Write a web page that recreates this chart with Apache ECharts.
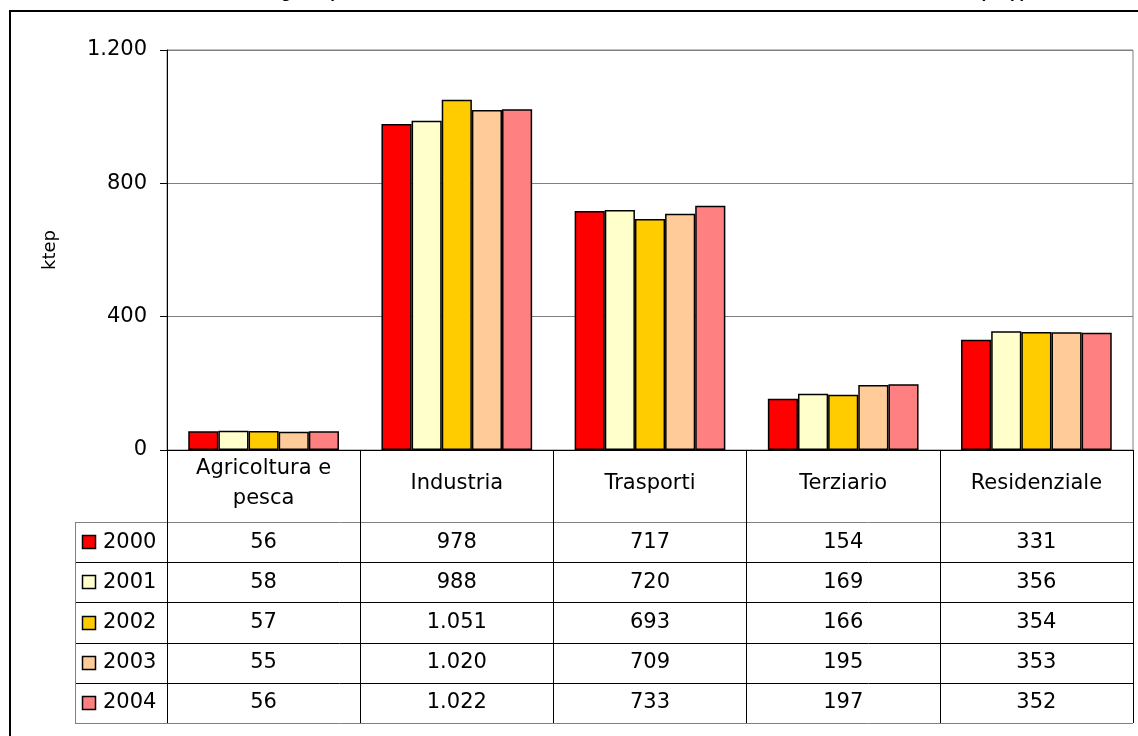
<!DOCTYPE html>
<html><head><meta charset="utf-8">
<script src="https://cdn.jsdelivr.net/npm/echarts@6/dist/echarts.min.js"></script>
<style>html,body{margin:0;padding:0;background:#fff}#c{width:1138px;height:736px}</style>
</head><body><div id="c"></div>
<script>
// ---- data ----
const titleText = "Consumi energetici per settore nel territorio della Provincia di Ravenna dall'anno 2000 all'anno 2004 (ktep)";
const categories = ['Agricoltura e\npesca', 'Industria', 'Trasporti', 'Terziario', 'Residenziale'];
const years = ['2000', '2001', '2002', '2003', '2004'];
const values2000 = [56, 978, 717, 154, 331];
const values2001 = [58, 988, 720, 169, 356];
const values2002 = [57, 1051, 693, 166, 354];
const values2003 = [55, 1020, 709, 195, 353];
const values2004 = [56, 1022, 733, 197, 352];
const yAxisName = 'ktep';
const yMin = 0, yMax = 1200, yInterval = 400;

// ---- style / layout ----
const seriesValues = [values2000, values2001, values2002, values2003, values2004];
const colors = ['#FF0000', '#FFFFCC', '#FFCC00', '#FFCC99', '#FF8080'];
const FONT = 'DejaVu Sans';
const FS = 21;
const W = 1138, H = 736;
const grid = { left: 167, right: 5, top: 50, bottom: 286 };
const tableTop = 522, rowH = 40.2, legendLeft = 75;

function fmt(v) { return String(v).replace(/\B(?=(\d{3})+(?!\d))/g, '.'); }

const chart = echarts.init(document.getElementById('c'), null, { renderer: 'canvas' });
chart.setOption({
  animation: false,
  grid: Object.assign({ show: true, borderColor: '#808080', borderWidth: 1 }, grid),
  xAxis: {
    type: 'category', data: categories,
    axisLine: { lineStyle: { color: '#000', width: 1 } },
    axisTick: { show: true, interval: 0, length: 273, lineStyle: { color: '#000' } },
    axisLabel: { interval: 0, margin: 34, verticalAlign: 'middle', fontFamily: FONT, fontSize: FS, color: '#000', lineHeight: 30 },
    splitLine: { show: false }
  },
  yAxis: {
    type: 'value', min: yMin, max: yMax, interval: yInterval,
    name: yAxisName, nameLocation: 'middle', nameGap: 108, nameRotate: 90,
    nameTextStyle: { fontFamily: FONT, fontSize: 18, color: '#000' },
    axisLine: { show: true, lineStyle: { color: '#000' } },
    axisTick: { show: true, length: 7, lineStyle: { color: '#000' } },
    axisLabel: { formatter: fmt, margin: 20, fontFamily: FONT, fontSize: FS, color: '#000' },
    splitLine: { lineStyle: { color: '#808080', width: 1 } }
  },
  series: years.map((y, i) => ({
    type: 'bar', name: y, data: seriesValues[i],
    barGap: '0%', barCategoryGap: '22%',
    itemStyle: { color: colors[i], borderColor: '#000', borderWidth: 1.5 }
  }))
});

const xRight = W - grid.right;
const elems = [];
// outer frame
elems.push({ type: 'rect', shape: { x: 10, y: 11, width: 1300, height: 900 }, style: { fill: 'none', stroke: '#000', lineWidth: 2 }, silent: true });
// title (mostly clipped above the top edge)
elems.push({ type: 'text', x: 1026, y: -7, style: { text: titleText, textAlign: 'right', textVerticalAlign: 'middle', font: 'bold 17px "Liberation Sans"', fill: '#000' } });
// table horizontal lines
for (let i = 0; i <= years.length; i++) {
  const y = Math.round(tableTop + i * rowH) + 0.5;
  elems.push({ type: 'line', shape: { x1: legendLeft, y1: y, x2: xRight, y2: y }, style: { stroke: i === 0 || i === years.length ? '#808080' : '#000', lineWidth: 1 } });
}
const yb = Math.round(tableTop + years.length * rowH);
elems.push({ type: 'line', shape: { x1: legendLeft + 0.5, y1: tableTop, x2: legendLeft + 0.5, y2: yb }, style: { stroke: '#808080', lineWidth: 1 } });
// legend keys + values
years.forEach((yr, i) => {
  const cy = tableTop + i * rowH + rowH / 2;
  elems.push({ type: 'rect', shape: { x: 82.5, y: Math.round(cy - 7) + 0.5, width: 13, height: 13 }, style: { fill: colors[i], stroke: '#000', lineWidth: 1.5 } });
  elems.push({ type: 'text', x: 103, y: cy, style: { text: yr, textVerticalAlign: 'middle', font: FS + 'px "DejaVu Sans"', fill: '#000' } });
  seriesValues[i].forEach((v, j) => {
    const cx = chart.convertToPixel({ xAxisIndex: 0 }, j);
    elems.push({ type: 'text', x: cx, y: cy, style: { text: fmt(v), textAlign: 'center', textVerticalAlign: 'middle', font: FS + 'px "DejaVu Sans"', fill: '#000' } });
  });
});
chart.setOption({ graphic: { elements: elems } });
</script>
</body></html>
